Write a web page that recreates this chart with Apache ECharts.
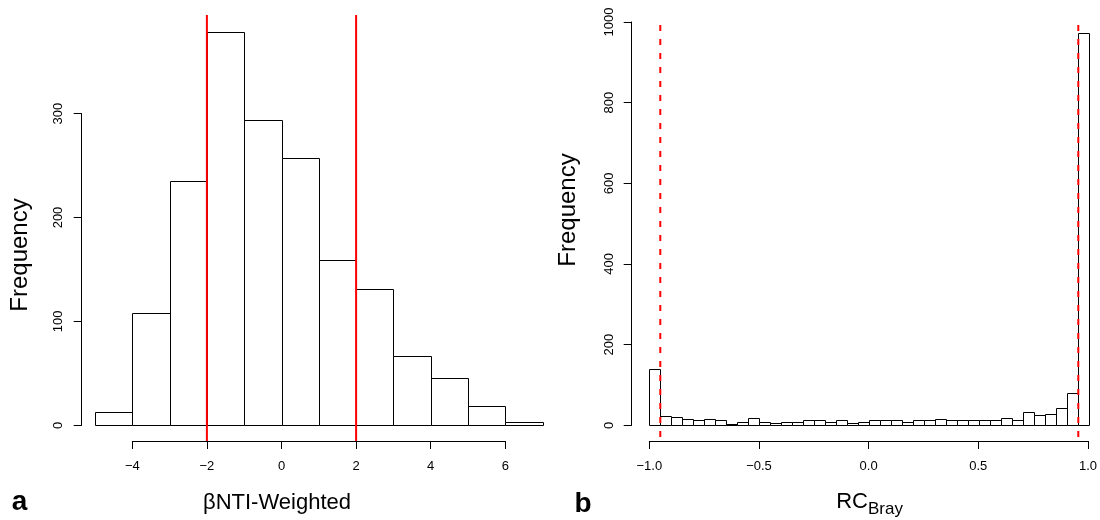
<!DOCTYPE html>
<html><head><meta charset="utf-8">
<script src="https://cdn.jsdelivr.net/npm/echarts@6/dist/echarts.min.js"></script>
<style>html,body{margin:0;padding:0;background:#fff}#c{width:1100px;height:520px}</style>
</head><body><div id="c"></div>
<script>
// Panel a: betaNTI-Weighted histogram
const binEdgesA = [-5, -4, -3, -2, -1, 0, 1, 2, 3, 4, 5, 6, 7];
const countsA = [13, 108, 235, 379, 294, 257, 159, 131, 67, 46, 19, 3];
const xTicksA = [-4, -2, 0, 2, 4, 6];
const yTicksA = [0, 100, 200, 300];
const linesA = [-2, 2];

// Panel b: RC_Bray histogram
const binEdgesB = [-1.00, -0.95, -0.90, -0.85, -0.80, -0.75, -0.70, -0.65, -0.60, -0.55, -0.50,
  -0.45, -0.40, -0.35, -0.30, -0.25, -0.20, -0.15, -0.10, -0.05, 0.00,
  0.05, 0.10, 0.15, 0.20, 0.25, 0.30, 0.35, 0.40, 0.45, 0.50,
  0.55, 0.60, 0.65, 0.70, 0.75, 0.80, 0.85, 0.90, 0.95, 1.00];
const countsB = [139, 24, 20, 16, 13, 16, 12, 4, 9, 18, 9, 6, 9, 9, 12, 13, 9, 13, 5, 9,
  14, 13, 12, 9, 12, 14, 16, 14, 13, 12, 12, 12, 19, 14, 33, 26, 29, 44, 80, 972];
const xTicksB = [-1.0, -0.5, 0.0, 0.5, 1.0];
const yTicksB = [0, 200, 400, 600, 800, 1000];
const linesB = [-0.95, 0.95];

const FONT = 'Liberation Sans';

function histItem(params, api) {
  const x0 = api.value(0), x1 = api.value(1), c = api.value(2);
  const p0 = api.coord([x0, 0]);
  const p1 = api.coord([x1, c]);
  return {
    type: 'rect',
    shape: { x: Math.round(p0[0]) + 0.5, y: Math.round(p1[1]) + 0.5,
             width: Math.round(p1[0]) - Math.round(p0[0]), height: Math.round(p0[1]) - Math.round(p1[1]) },
    style: { fill: '#fff', stroke: '#000', lineWidth: 1 }
  };
}
function vlineItem(dash, dashOffset) {
  return function (params, api) {
    const x = api.coord([api.value(0), 0])[0];
    const cs = params.coordSys;
    return {
      type: 'line',
      shape: { x1: x, y1: cs.y, x2: x, y2: cs.y + cs.height },
      style: { stroke: '#ff0000', lineWidth: 2, lineDash: dash, lineDashOffset: dashOffset || 0 }
    };
  };
}
const fmtA = v => (v < 0 ? '\u2212' : '') + Math.abs(v);
const fmtB = v => (v < 0 ? '\u2212' : '') + Math.abs(v).toFixed(1);

const axisLineStyle = { show: true, onZero: false, lineStyle: { color: '#000', width: 1 } };
const tickStyle = { show: true, length: 8, lineStyle: { color: '#000', width: 1 } };
const labelStyle = (fmt, margin, rotate) => ({ show: true, color: '#000', fontSize: 13, fontFamily: FONT, margin: margin, rotate: rotate || 0, formatter: fmt });
const hidden = (gi, min, max) => ({ gridIndex: gi, type: 'value', min: min, max: max, show: false });

// Pixel layout
const A_y0 = 425.3, A_unitY = 1.039; // px per count
const A_x0 = 281.5, A_unitX = 37.3;
const B_y0 = 425.3, B_unitY = 0.4033;
const B_x0 = 869.3, B_unitX = 220;

const chart = echarts.init(document.getElementById('c'), null, { renderer: 'canvas' });
const option = {
  animation: false,
  backgroundColor: '#fff',
  grid: [
    { left: 81.7, top: 15, width: 474.2, height: 426 },
    { left: A_x0 - 4 * A_unitX, top: 15, width: 10 * A_unitX, height: 426 },
    { left: 81.7, top: A_y0 - 300 * A_unitY, width: 100, height: 300 * A_unitY },
    { left: 631.7, top: 17.6, right: 0, height: 423.4 },
    { left: B_x0 - B_unitX, top: 17.6, width: 2 * B_unitX, height: 423.4 },
    { left: 631.7, top: B_y0 - 1000 * B_unitY, width: 100, height: 1000 * B_unitY }
  ],
  xAxis: [
    hidden(0, (81.7 - A_x0) / A_unitX, (555.9 - A_x0) / A_unitX),
    { gridIndex: 1, type: 'value', min: xTicksA[0], max: xTicksA[xTicksA.length - 1], interval: 2, position: 'bottom',
      axisLine: axisLineStyle, axisTick: tickStyle, axisLabel: labelStyle(fmtA, 19), splitLine: { show: false } },
    hidden(2, 0, 1),
    hidden(3, (631.7 - B_x0) / B_unitX, (1100 - B_x0) / B_unitX),
    { gridIndex: 4, type: 'value', min: xTicksB[0], max: xTicksB[xTicksB.length - 1], interval: 0.5, position: 'bottom',
      axisLine: axisLineStyle, axisTick: tickStyle, axisLabel: labelStyle(fmtB, 19), splitLine: { show: false } },
    hidden(5, 0, 1)
  ],
  yAxis: [
    hidden(0, -(441 - A_y0) / A_unitY, (A_y0 - 15) / A_unitY),
    hidden(1, 0, 1),
    { gridIndex: 2, type: 'value', min: yTicksA[0], max: yTicksA[yTicksA.length - 1], interval: 100, position: 'left',
      axisLine: axisLineStyle, axisTick: tickStyle, axisLabel: labelStyle(v => String(v), 17, 90), splitLine: { show: false } },
    hidden(3, -(441 - B_y0) / B_unitY, (B_y0 - 17.6) / B_unitY),
    hidden(4, 0, 1),
    { gridIndex: 5, type: 'value', min: yTicksB[0], max: yTicksB[yTicksB.length - 1], interval: 200, position: 'left',
      axisLine: axisLineStyle, axisTick: tickStyle, axisLabel: labelStyle(v => String(v), 16, 90), splitLine: { show: false } }
  ],
  series: [
    { type: 'custom', xAxisIndex: 0, yAxisIndex: 0, renderItem: histItem, encode: { x: [0, 1], y: 2 },
      data: countsA.map((c, i) => [binEdgesA[i], binEdgesA[i + 1], c]) },
    { type: 'custom', xAxisIndex: 0, yAxisIndex: 0, renderItem: vlineItem(null), encode: { x: 0, y: 1 },
      data: linesA.map(v => [v, 0]) },
    { type: 'custom', xAxisIndex: 3, yAxisIndex: 3, renderItem: histItem, encode: { x: [0, 1], y: 2 },
      data: countsB.map((c, i) => [binEdgesB[i], binEdgesB[i + 1], c]) },
    { type: 'custom', xAxisIndex: 3, yAxisIndex: 3, renderItem: vlineItem([6, 8], 6.6), encode: { x: 0, y: 1 },
      data: linesB.map(v => [v, 0]) }
  ],
  graphic: [
    { type: 'text', x: 20.5, y: 255, rotation: Math.PI / 2,
      style: { text: 'Frequency', fontSize: 24, fontFamily: FONT, fill: '#000', align: 'center', verticalAlign: 'middle' } },
    { type: 'text', x: 568.5, y: 210, rotation: Math.PI / 2,
      style: { text: 'Frequency', fontSize: 24, fontFamily: FONT, fill: '#000', align: 'center', verticalAlign: 'middle' } },
    { type: 'text', x: 277, y: 503,
      style: { text: '\u03b2NTI-Weighted', fontSize: 22, fontFamily: FONT, fill: '#000', align: 'center', verticalAlign: 'middle' } },
    { type: 'text', x: 868, y: 501.5,
      style: { text: 'RC', fontSize: 22, fontFamily: FONT, fill: '#000', align: 'right', verticalAlign: 'middle' } },
    { type: 'text', x: 868, y: 509,
      style: { text: 'Bray', fontSize: 17, fontFamily: FONT, fill: '#000', align: 'left', verticalAlign: 'middle' } },
    { type: 'text', x: 19.5, y: 502,
      style: { text: 'a', fontSize: 28, fontWeight: 'bold', fontFamily: FONT, fill: '#000', align: 'center', verticalAlign: 'middle' } },
    { type: 'text', x: 583, y: 504,
      style: { text: 'b', fontSize: 28, fontWeight: 'bold', fontFamily: FONT, fill: '#000', align: 'center', verticalAlign: 'middle' } }
  ]
};
chart.setOption(option);
</script>
</body></html>
